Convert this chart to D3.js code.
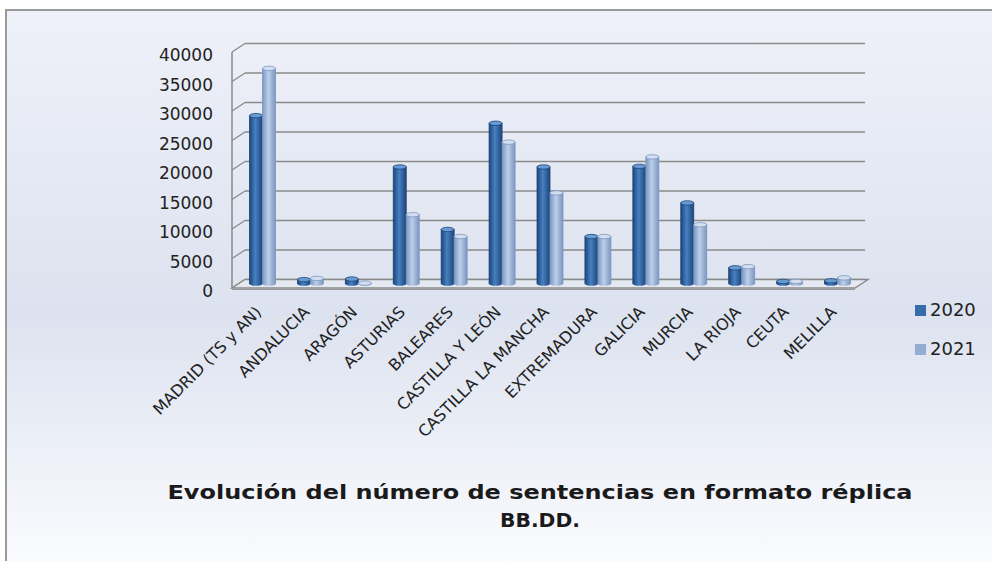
<!DOCTYPE html>
<html>
<head>
<meta charset="utf-8">
<script src="https://cdn.jsdelivr.net/npm/d3@7"></script>
<style>
  body { margin: 0; background: #fff; }
  svg { display: block; }
</style>
</head>
<body>
<div id="chart"></div>
<script>
// data
const categories = ["MADRID (TS y AN)", "ANDALUCIA", "ARAGÓN", "ASTURIAS", "BALEARES",
  "CASTILLA Y LEÓN", "CASTILLA LA MANCHA", "EXTREMADURA", "GALICIA", "MURCIA",
  "LA RIOJA", "CEUTA", "MELILLA"];
const values2020 = [28500, 700, 800, 19800, 9200, 27200, 19800, 8000, 19900, 13700, 2700, 400, 500];
const values2021 = [36500, 900, 100, 11700, 8000, 24000, 15400, 8000, 21500, 10000, 2900, 400, 1000];
const seriesNames = ["2020", "2021"];
const yTicks = [0, 5000, 10000, 15000, 20000, 25000, 30000, 35000, 40000];
const titleLines = ["Evolución del número de sentencias en formato réplica", "BB.DD."];

const width = 992, height = 561;
const depthX = 13, depthY = -8.5; // fake 3d offset

const svg = d3.select("#chart").append("svg")
  .attr("width", width)
  .attr("height", height);

const defs = svg.append("defs");

const bg = defs.append("linearGradient").attr("id", "bg")
  .attr("x1", 0).attr("y1", 0).attr("x2", 0).attr("y2", 1);
bg.append("stop").attr("offset", "0%").attr("stop-color", "#eff1f9");
bg.append("stop").attr("offset", "55%").attr("stop-color", "#dce2ef");
bg.append("stop").attr("offset", "100%").attr("stop-color", "#fafbfe");

// cylinder-ish shading for the bars
const barColors = [
  {edge: "#1c4579", mid: "#4780c2", top: "#6a9ad2"},
  {edge: "#7b96c0", mid: "#bccfea", top: "#d3dff1"}
];
barColors.forEach((c, i) => {
  const g = defs.append("linearGradient").attr("id", "bar" + i)
    .attr("x1", 0).attr("y1", 0).attr("x2", 1).attr("y2", 0);
  g.append("stop").attr("offset", "0%").attr("stop-color", c.edge);
  g.append("stop").attr("offset", "45%").attr("stop-color", c.mid);
  g.append("stop").attr("offset", "100%").attr("stop-color", c.edge);
});

// background + border (only top and left edge visible)
svg.append("rect")
  .attr("x", 6).attr("y", 10)
  .attr("width", width - 6).attr("height", height - 10)
  .attr("fill", "url(#bg)");
svg.append("path")
  .attr("d", `M6,${height} L6,10 L${width},10`)
  .attr("fill", "none")
  .attr("stroke", "#9a9a9a")
  .attr("stroke-width", 2);

// scales
const x = d3.scaleBand().domain(categories).range([232, 855]);
const yFront = d3.scaleLinear().domain([0, 40000]).range([288, 52]);

// left wall + gridlines
const wall = svg.append("g").attr("stroke", "#8a8a8a").attr("fill", "none");
wall.append("line")
  .attr("x1", 232).attr("x2", 232)
  .attr("y1", yFront(0)).attr("y2", yFront(40000))
  .attr("stroke-width", 1.5);
yTicks.forEach(t => {
  wall.append("line")
    .attr("x1", 232).attr("y1", yFront(t))
    .attr("x2", 232 + depthX).attr("y2", yFront(t) + depthY)
    .attr("stroke-width", 1.3);
  wall.append("line")
    .attr("x1", 232 + depthX).attr("y1", yFront(t) + depthY)
    .attr("x2", 865).attr("y2", yFront(t) + depthY)
    .attr("stroke-width", 1.6);
});

// floor
svg.append("path")
  .attr("d", `M232,${yFront(0)} L855,${yFront(0)} L${855 + depthX},${yFront(0) + depthY} L${232 + depthX},${yFront(0) + depthY} Z`)
  .attr("fill", "#e4e8f1")
  .attr("stroke", "#8a8a8a")
  .attr("stroke-width", 1.4);
svg.append("line")
  .attr("x1", 232).attr("x2", 855)
  .attr("y1", yFront(0) + 1.5).attr("y2", yFront(0) + 1.5)
  .attr("stroke", "#9a9a9a").attr("stroke-width", 1);

// y labels
svg.append("g")
  .selectAll("text")
  .data(yTicks)
  .join("text")
  .attr("x", 213)
  .attr("y", d => yFront(d) + 4)
  .attr("text-anchor", "end")
  .attr("dominant-baseline", "middle")
  .attr("font-family", "DejaVu Sans, Verdana, sans-serif")
  .attr("font-size", "17px")
  .attr("fill", "#222")
  .text(d => d);

// bars at mid depth
const barW = 13;
const yMid = v => yFront(v) + depthY / 2;
const base = yMid(0);
const series = [values2020, values2021];

series.forEach((vals, si) => {
  const g = svg.append("g");
  categories.forEach((c, i) => {
    const cx = x(c) + x.bandwidth() / 2 + depthX / 2;
    const x0 = cx - barW + si * barW;
    const top = yMid(vals[i]);
    g.append("rect")
      .attr("x", x0).attr("y", top)
      .attr("width", barW).attr("height", Math.max(0, base - top))
      .attr("fill", `url(#bar${si})`)
      .attr("stroke", barColors[si].edge)
      .attr("stroke-width", 0.8);
    g.append("ellipse")
      .attr("cx", x0 + barW / 2).attr("cy", base)
      .attr("rx", barW / 2).attr("ry", 2)
      .attr("fill", `url(#bar${si})`);
    g.append("ellipse")
      .attr("cx", x0 + barW / 2).attr("cy", top)
      .attr("rx", barW / 2).attr("ry", 2.2)
      .attr("fill", barColors[si].top)
      .attr("stroke", barColors[si].edge)
      .attr("stroke-width", 0.8);
  });
});

// category labels
svg.append("g")
  .selectAll("text")
  .data(categories)
  .join("text")
  .attr("transform", d => `translate(${x(d) + x.bandwidth() / 2 + depthX / 2},313) rotate(-45)`)
  .attr("text-anchor", "end")
  .attr("font-family", "DejaVu Sans, Verdana, sans-serif")
  .attr("font-size", "16px")
  .attr("fill", "#222")
  .text(d => d);

// legend
const legend = svg.append("g").attr("transform", "translate(915,305)");
seriesNames.forEach((name, i) => {
  legend.append("rect")
    .attr("x", 0).attr("y", i * 39)
    .attr("width", 11).attr("height", 11)
    .attr("fill", i === 0 ? "#366ca9" : "#93acd2");
  legend.append("text")
    .attr("x", 15).attr("y", i * 39 + 6)
    .attr("dominant-baseline", "middle")
    .attr("font-family", "DejaVu Sans, Verdana, sans-serif")
    .attr("font-size", "18px")
    .attr("fill", "#222")
    .text(name);
});

// title
const titleWidths = [745, 80];
svg.append("g")
  .selectAll("text")
  .data(titleLines)
  .join("text")
  .attr("x", 540)
  .attr("y", (d, i) => 493 + i * 28)
  .attr("text-anchor", "middle")
  .attr("dominant-baseline", "middle")
  .attr("font-family", "DejaVu Sans, Verdana, sans-serif")
  .attr("font-weight", "bold")
  .attr("font-size", "20px")
  .attr("textLength", (d, i) => titleWidths[i])
  .attr("lengthAdjust", "spacingAndGlyphs")
  .attr("fill", "#1a1a1a")
  .text(d => d);
</script>
</body>
</html>
